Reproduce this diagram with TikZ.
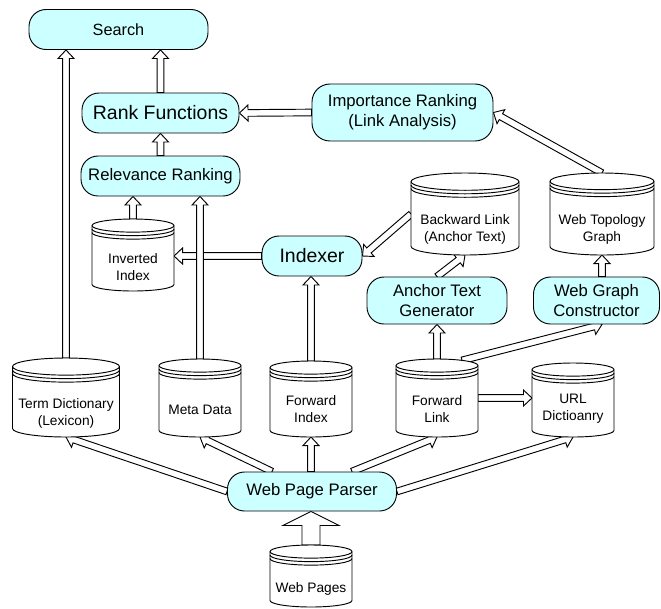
\documentclass[tikz,border=0pt]{standalone}
\usepackage{fontspec}
\setmainfont{Liberation Sans}
\usetikzlibrary{calc,backgrounds}
\definecolor{boxfill}{RGB}{204,255,255}
\tikzset{
  proc/.style={draw, fill=boxfill, line width=0.7pt, rounded corners=12.75pt, inner sep=0pt, align=center},
  bigf/.style={font=\fontsize{14.6}{17}\selectfont},
  medf/.style={font=\fontsize{12.5}{15}\selectfont},
  cylbox/.style={rectangle, draw=none, inner sep=0pt, outer sep=0pt},
  cylline/.style={draw, fill=white, line width=0.7pt},
  cyltext/.style={font=\fontsize{10.3}{12.5}\selectfont, align=center, inner sep=0pt},
  harrow/.style={draw, fill=white, line width=0.7pt, line join=miter}
}
\newcommand\cyl[7]{%
  \pgfmathsetmacro\cyla{#5/2}%
  \pgfmathsetmacro\cylr{#5*0.08}%
  \pgfmathsetmacro\cylax{#5/2*0.75}%
  \pgfmathsetmacro\cylry{#5*0.08*0.75}%
  \pgfmathsetmacro\cylm{(#3+#4)/2}%
  \pgfmathsetmacro\cylw{#5*0.75}%
  \pgfmathsetmacro\cylh{(#4-#3)*0.75}%
  \node[cylbox, minimum width=\cylw pt, minimum height=\cylh pt] (#1) at (#2,-\cylm) {};
  \draw[cylline] (#2-\cyla,-#3-\cylr) -- (#2-\cyla,-#4+\cylr)
     arc[start angle=180,end angle=360,x radius=\cylax pt,y radius=\cylry pt]
     -- (#2+\cyla,-#3-\cylr)
     arc[start angle=0,end angle=180,x radius=\cylax pt,y radius=\cylry pt] -- cycle;
  \foreach \k in {0,1,2}{\draw[cylline,fill=none] (#2-\cyla,-#3-\cylr-3.5*\k) arc[start angle=180,end angle=360,x radius=\cylax pt,y radius=\cylry pt];}
  \node[cyltext] (#1-t) at (#2,-#6) {#7};
}
\newcommand\hollowarrow[5]{%
  \coordinate (has) at (#1);
  \coordinate (hat) at (#2);
  \coordinate (hab) at ($(hat)!#5!(has)$);
  \draw[harrow] ($(has)!#3!90:(hat)$) -- ($(hab)!#3!-90:(has)$) -- ($(hab)!#4!-90:(has)$) -- (hat)
     -- ($(hab)!#4!90:(has)$) -- ($(hab)!#3!90:(has)$) -- ($(has)!#3!-90:(hat)$) -- cycle;
}
\newcommand\arr[2]{\hollowarrow{#1}{#2}{2.5pt}{6pt}{6.4pt}}
\begin{document}
\begin{tikzpicture}[x=0.75pt,y=0.75pt]
\useasboundingbox (0,0) rectangle (661,-608);
% process boxes
\node[proc, font=\fontsize{12.2}{15}\selectfont, minimum width=134.25pt, minimum height=30pt] (search) at (118.5,-29.5) {Search};
\node[proc, bigf, minimum width=117.75pt, minimum height=30pt] (rank) at (160.5,-113) {Rank Functions};
\node[proc, medf, minimum width=119.25pt, minimum height=30pt] (relev) at (160.5,-176) {Relevance Ranking};
\node[proc, medf, minimum width=135.75pt, minimum height=42.75pt, rounded corners=13.5pt] (import) at (402.5,-112.5) {Importance Ranking\\(Link Analysis)};
\node[proc, bigf, minimum width=75pt, minimum height=30pt] (indexer) at (312,-256) {Indexer};
\node[proc, medf, minimum width=105pt, minimum height=35.25pt] (atg) at (437,-300.5) {Anchor Text\\Generator};
\node[proc, medf, minimum width=94.5pt, minimum height=35.25pt] (wgc) at (596.5,-300.5) {Web Graph\\Constructor};
\node[proc, medf, minimum width=126.75pt, minimum height=29.25pt] (parser) at (312,-491.5) {Web Page Parser};
% data stores
\cyl{invidx}{133}{219}{291}{82}{267}{Inverted\\Index}
\cyl{bl}{465}{173}{255}{108}{229.5}{Backward Link\\(Anchor Text)}
\cyl{wtg}{602}{173}{255}{104}{229.5}{Web Topology\\Graph}
\cyl{termdict}{66}{358}{437}{107}{413.5}{Term Dictionary\\(Lexicon)}
\cyl{meta}{200}{359}{437}{82}{410}{Meta Data}
\cyl{fwdidx}{311}{361}{437}{82}{409}{Forward\\Index}
\cyl{fwdlink}{437}{359}{437}{82}{409}{Forward\\Link}
\cyl{url}{573}{363}{437}{82}{409}{URL\\Dictioanry}
\cyl{webpages}{311}{545}{607}{82}{589}{Web Pages}
% connectors
\begin{pgfonlayer}{background}
\arr{indexer.west}{invidx.east |- indexer.west}
\arr{termdict.north}{termdict.north |- search.south}
\arr{rank.north}{rank.north |- search.south}
\arr{relev.north}{rank.south}
\arr{import.west}{rank.east}
\arr{wtg.north}{import.east}
\arr{invidx.north}{invidx.north |- relev.south}
\arr{meta.north}{meta.north |- relev.south}
\arr{fwdidx.north}{fwdidx.north |- indexer.south}
\arr{bl.west}{indexer.east}
\arr{atg.north}{bl.south}
\arr{wtg.south |- wgc.north}{wtg.south}
\arr{fwdlink.north}{atg.south}
\arr{[shift={(25,-1.4)}]fwdlink.north}{wtg.south |- wgc.south}
\arr{fwdlink.east}{url.west |- fwdlink.east}
\arr{parser.west}{termdict.south}
\arr{[xshift=-30pt]parser.north}{meta.south}
\arr{fwdidx.south |- parser.north}{fwdidx.south}
\arr{[xshift=30pt]parser.north}{fwdlink.south}
\arr{parser.east}{url.south}
\hollowarrow{webpages.north}{webpages.north |- parser.south}{6.75pt}{21pt}{10.5pt}
\end{pgfonlayer}
\end{tikzpicture}
\end{document}
